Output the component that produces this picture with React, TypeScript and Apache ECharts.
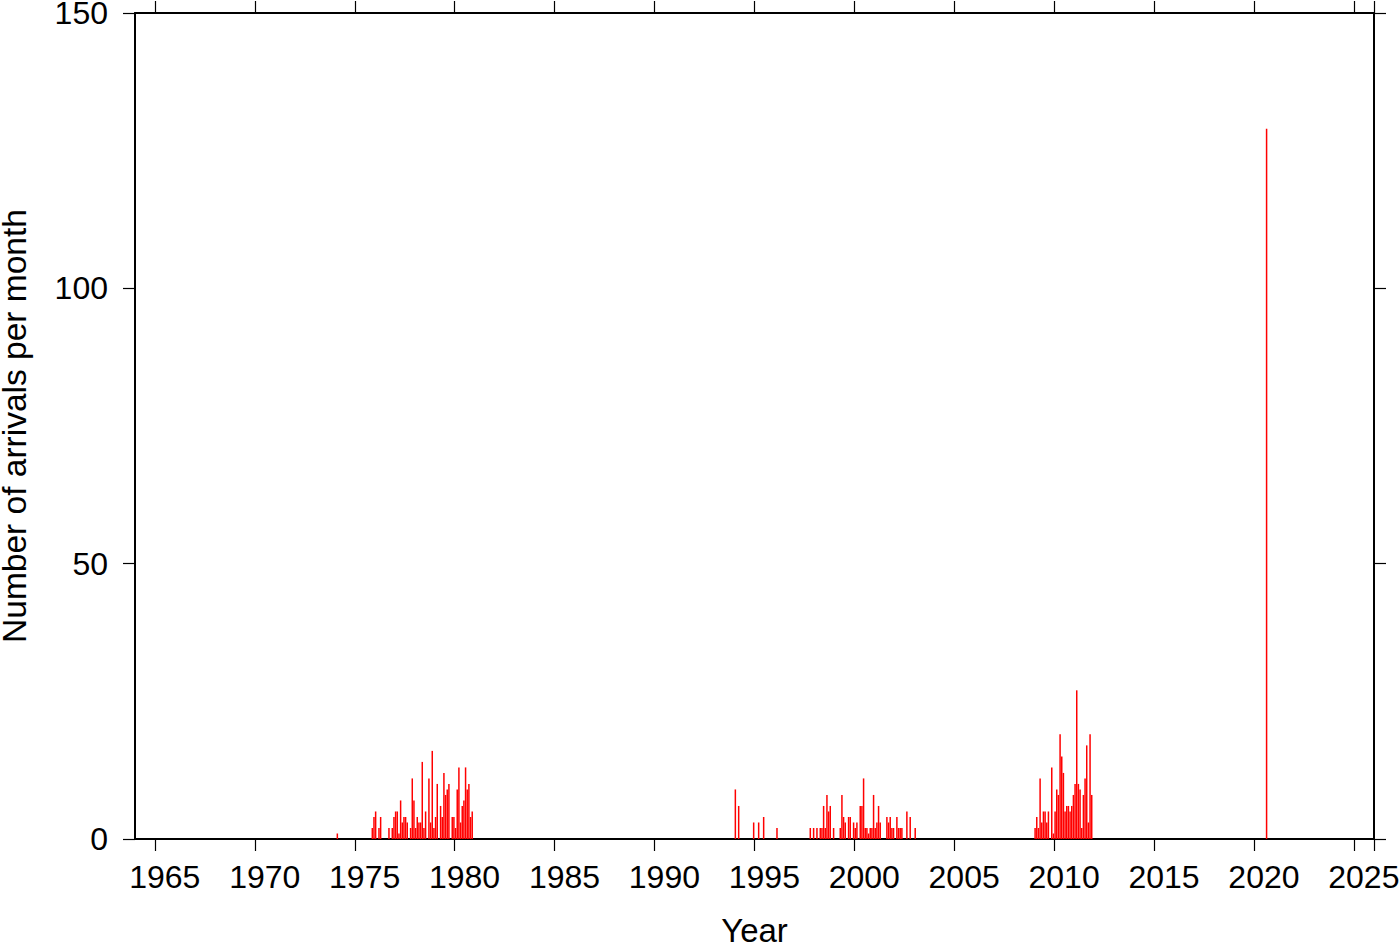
import React, { useEffect, useRef } from "react";
import * as echarts from "echarts";

// Month of each non-empty bin (YYYY-MM) and number of arrivals in it
const months: string[] = [
  "1974-02",
  "1975-11", "1975-12",
  "1976-01", "1976-03", "1976-04", "1976-09", "1976-11", "1976-12",
  "1977-01", "1977-02", "1977-03", "1977-04", "1977-05", "1977-06", "1977-07", "1977-08", "1977-10", "1977-11", "1977-12",
  "1978-01", "1978-02", "1978-03", "1978-04", "1978-05", "1978-06", "1978-07", "1978-09", "1978-10", "1978-11", "1978-12",
  "1979-01", "1979-02", "1979-04", "1979-05", "1979-06", "1979-07", "1979-08", "1979-09", "1979-11", "1979-12",
  "1980-01", "1980-02", "1980-03", "1980-04", "1980-05", "1980-06", "1980-07", "1980-08", "1980-09", "1980-10", "1980-11",
  "1994-01", "1994-03", "1994-12", "1995-03", "1995-06", "1996-02",
  "1997-10", "1997-12", "1998-02", "1998-04", "1998-05", "1998-06", "1998-07", "1998-08", "1998-09", "1998-10", "1998-12",
  "1999-04", "1999-05", "1999-06", "1999-07", "1999-09", "1999-10", "1999-12",
  "2000-01", "2000-02", "2000-04", "2000-05", "2000-06", "2000-07", "2000-08", "2000-09", "2000-10", "2000-11", "2000-12",
  "2001-01", "2001-02", "2001-03", "2001-04", "2001-08", "2001-09", "2001-10", "2001-11", "2001-12",
  "2002-02", "2002-03", "2002-04", "2002-05", "2002-08", "2002-10",
  "2003-01",
  "2009-01", "2009-02", "2009-03", "2009-04", "2009-05", "2009-06", "2009-07", "2009-08", "2009-09", "2009-11", "2009-12",
  "2010-01", "2010-02", "2010-03", "2010-04", "2010-05", "2010-06", "2010-07", "2010-08", "2010-09", "2010-10", "2010-11", "2010-12",
  "2011-01", "2011-02", "2011-03", "2011-04", "2011-05", "2011-06", "2011-07", "2011-08", "2011-09", "2011-10", "2011-11",
  "2020-08",
];

const counts: number[] = [
  1,
  2, 4,
  5, 2, 4, 2, 2, 4,
  5, 5, 1, 7, 3, 4, 4, 3, 2, 11, 7,
  2, 4, 3, 3, 14, 2, 5, 11, 3, 16, 2,
  4, 10, 6, 4, 12, 8, 9, 10, 4, 4,
  2, 9, 13, 3, 6, 7, 13, 9, 10, 4, 5,
  9, 6, 3, 3, 4, 2,
  2, 2, 2, 2, 2, 6, 2, 8, 5, 6, 2,
  2, 8, 4, 3, 4, 4, 3,
  2, 3, 6, 6, 11, 2, 2, 1, 2, 2, 8,
  2, 3, 6, 3, 4, 3, 4, 2, 2,
  4, 2, 2, 2, 5, 4,
  2,
  2, 4, 2, 11, 3, 5, 5, 3, 5, 13, 1,
  5, 9, 8, 19, 15, 12, 5, 6, 6, 5, 6, 8,
  10, 27, 10, 9, 2, 8, 11, 17, 3, 19, 8,
  129,
];

const firstYear = 1964;
const lastYear = 2025; // axis spans Jan 1964 .. Dec 2025
const tickEveryYears = 5;
const yMin = 0;
const yMax = 150;
const yStep = 50;

const FONT = "'Liberation Sans', Arial, Helvetica, sans-serif";

export default function App() {
  const ref = useRef<HTMLDivElement>(null);

  useEffect(() => {
    if (!ref.current) return;
    const chart = echarts.init(ref.current, null, { renderer: "svg" });

    // full monthly category list, built from the year span
    const cats: string[] = [];
    for (let y = firstYear; y <= lastYear; y++) {
      for (let m = 1; m <= 12; m++) cats.push(`${y}-${String(m).padStart(2, "0")}`);
    }
    const lookup = new Map<string, number>();
    months.forEach((m, i) => lookup.set(m, counts[i]));
    const values = cats.map((c) => (lookup.has(c) ? lookup.get(c)! : null));

    const isYearTick = (_i: number, v: string) => {
      const [y, m] = v.split("-").map(Number);
      return m === 1 && y % tickEveryYears === 0;
    };

    const axisLine = { show: true, onZero: false, lineStyle: { color: "#000", width: 2 } };
    const tick = { show: true, inside: false, length: 12, lineStyle: { color: "#000", width: 1.2 } };

    chart.setOption({
      animation: false,
      backgroundColor: "#fff",
      grid: { left: 135, top: 13, right: 26, bottom: 103, containLabel: false, outerBoundsMode: "none" },
      xAxis: [
        {
          type: "category",
          position: "bottom",
          data: cats,
          boundaryGap: true,
          name: "Year",
          nameLocation: "middle",
          nameGap: 75,
          nameTextStyle: { fontFamily: FONT, fontSize: 33, color: "#000" },
          axisLine,
          axisTick: { ...tick, interval: isYearTick, alignWithLabel: false },
          axisLabel: {
            interval: isYearTick,
            margin: 22,
            padding: [0, 0, 0, 18],
            fontFamily: FONT,
            fontSize: 32,
            color: "#000",
            formatter: (v: string) => v.slice(0, 4),
          },
          splitLine: { show: false },
        },
        {
          type: "category",
          position: "top",
          data: cats,
          boundaryGap: true,
          axisLine,
          axisTick: { ...tick, interval: isYearTick, alignWithLabel: false },
          axisLabel: { show: false },
          splitLine: { show: false },
        },
      ],
      yAxis: [
        {
          type: "value",
          position: "left",
          min: yMin,
          max: yMax,
          interval: yStep,
          name: "Number of arrivals per month",
          nameLocation: "middle",
          nameGap: 104,
          nameTextStyle: { fontFamily: FONT, fontSize: 33.5, color: "#000" },
          axisLine,
          axisTick: tick,
          axisLabel: { margin: 27, fontFamily: FONT, fontSize: 32, color: "#000" },
          splitLine: { show: false },
        },
        {
          type: "value",
          position: "right",
          min: yMin,
          max: yMax,
          interval: yStep,
          axisLine,
          axisTick: tick,
          axisLabel: { show: false },
          splitLine: { show: false },
        },
      ],
      series: [
        {
          type: "bar",
          xAxisIndex: 0,
          yAxisIndex: 0,
          data: values,
          barWidth: 1.5,
          itemStyle: { color: "#ff0000" },
        },
      ],
    });

    return () => chart.dispose();
  }, []);

  return (
    <div
      ref={ref}
      style={{ position: "absolute", left: 0, top: 0, width: 1400, height: 942, background: "#fff" }}
    />
  );
}
